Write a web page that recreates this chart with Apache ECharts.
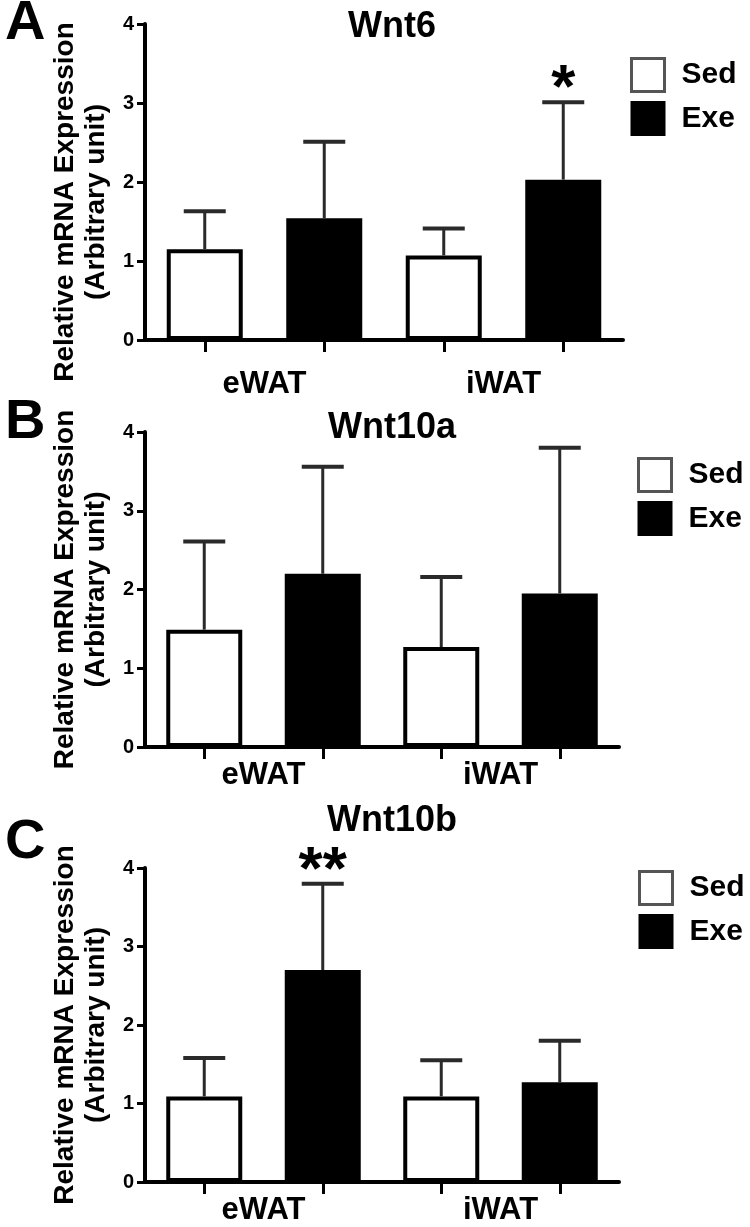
<!DOCTYPE html>
<html>
<head>
<meta charset="utf-8">
<script src="https://cdn.jsdelivr.net/npm/echarts@6/dist/echarts.min.js"></script>
<style>
  html, body { margin: 0; padding: 0; background: #fff; }
  #main { width: 750px; height: 1227px; }
</style>
</head>
<body>
<div id="main"></div>
<script>
// tissue groups and the four bar slots (Sed/Exe per tissue)
var groups = ['eWAT', 'iWAT'];
var slots = ['eWAT-Sed', 'eWAT-Exe', 'iWAT-Sed', 'iWAT-Exe'];
var genes = ['Wnt6', 'Wnt10a', 'Wnt10b'];
var letters = ['A', 'B', 'C'];

// Wnt6
var wnt6Sed = [1.15, 1.07];
var wnt6SedErr = [0.48, 0.34];
var wnt6Exe = [1.54, 2.03];
var wnt6ExeErr = [0.97, 0.98];
var wnt6Sig = ['', '*'];

// Wnt10a
var wnt10aSed = [1.49, 1.27];
var wnt10aSedErr = [1.12, 0.89];
var wnt10aExe = [2.20, 1.95];
var wnt10aExeErr = [1.36, 1.85];
var wnt10aSig = ['', ''];

// Wnt10b
var wnt10bSed = [1.09, 1.09];
var wnt10bSedErr = [0.49, 0.46];
var wnt10bExe = [2.70, 1.27];
var wnt10bExeErr = [1.10, 0.53];
var wnt10bSig = ['**', ''];

var panelData = [
  [wnt6Sed, wnt6SedErr, wnt6Exe, wnt6ExeErr, wnt6Sig],
  [wnt10aSed, wnt10aSedErr, wnt10aExe, wnt10aExeErr, wnt10aSig],
  [wnt10bSed, wnt10bSedErr, wnt10bExe, wnt10bExeErr, wnt10bSig]
];

// layout only
var layout = [
  { top: 24, height: 316, right: 127, labelMargin: 29, titleTop: 4, letterTop: -9, legendLeft: 625, legendTop: 52, nameShift: 40 },
  { top: 432, height: 315, right: 131, labelMargin: 13, titleTop: 405, letterTop: 390, legendLeft: 632, legendTop: 452, nameShift: 0 },
  { top: 868, height: 314, right: 131, labelMargin: 13, titleTop: 798, letterTop: 810, legendLeft: 633, legendTop: 865, nameShift: 0 }
];

var FONT = '"Liberation Sans", Arial, Helvetica, sans-serif';

var chart = echarts.init(document.getElementById('main'));

var option = {
  backgroundColor: '#fff',
  animation: false,
  textStyle: { fontFamily: FONT },
  title: [], grid: [], xAxis: [], yAxis: [], legend: [], series: []
};

function errRenderer(sig) {
  return function (params, api) {
    var slot = api.value(0);
    var m = api.value(1);
    var e = api.value(2);
    var base = api.coord([slot, m]);
    var top = api.coord([slot, m + e]);
    var kids = [
      { type: 'line', shape: { x1: base[0], y1: base[1], x2: top[0], y2: top[1] },
        style: { stroke: '#2a2a2a', lineWidth: 3 } },
      { type: 'line', shape: { x1: top[0] - 21, y1: top[1], x2: top[0] + 21, y2: top[1] },
        style: { stroke: '#2a2a2a', lineWidth: 4 } }
    ];
    var s = sig[params.dataIndex];
    if (s) {
      kids.push({ type: 'text', x: top[0], y: top[1] + 19,
        style: { text: s, fill: '#000', font: 'bold 62px ' + FONT, align: 'center', verticalAlign: 'bottom' } });
    }
    return { type: 'group', children: kids };
  };
}

panelData.forEach(function (d, i) {
  var L = layout[i];
  var sed = d[0], sedErr = d[1], exe = d[2], exeErr = d[3], sig = d[4];

  option.title.push({
    text: letters[i], left: 0, top: L.letterTop,
    textStyle: { fontSize: 56, fontWeight: 'bold', color: '#000', fontFamily: FONT }
  });
  option.title.push({
    text: genes[i], left: 387, top: L.titleTop, textAlign: 'center',
    textStyle: { fontSize: 36, fontWeight: 'bold', color: '#000', fontFamily: FONT }
  });

  option.grid.push({ left: 145, right: L.right, top: L.top, height: L.height,
    containLabel: false, outerBoundsMode: 'none' });

  // tissue labels + axis line
  option.xAxis.push({
    type: 'category', gridIndex: i, data: groups,
    axisLine: { lineStyle: { color: '#000', width: 4 } },
    axisTick: { show: false },
    axisLabel: { color: '#000', fontSize: 31, fontWeight: 'bold', margin: L.labelMargin, fontFamily: FONT }
  });
  // bar slots, used for ticks, bars and error bars
  option.xAxis.push({
    type: 'category', gridIndex: i, data: slots, position: 'bottom',
    axisLine: { show: false },
    axisTick: { show: true, alignWithLabel: true, length: 12, lineStyle: { color: '#000', width: 3 } },
    axisLabel: { show: false }
  });

  option.yAxis.push({
    type: 'value', gridIndex: i, min: 0, max: 4, interval: 1,
    name: 'Relative mRNA Expression\n(Arbitrary unit)',
    nameLocation: 'middle', nameGap: 33,
    nameTextStyle: { fontSize: 28, fontWeight: 'bold', color: '#000', lineHeight: 31, fontFamily: FONT,
      padding: [0, L.nameShift, 0, 0] },
    splitLine: { show: false },
    axisLine: { show: true, lineStyle: { color: '#000', width: 4 } },
    axisTick: { show: true, length: 8, lineStyle: { color: '#000', width: 3 } },
    axisLabel: { color: '#000', fontSize: 20, fontWeight: 'bold', margin: 11, fontFamily: FONT }
  });

  option.legend.push({
    orient: 'vertical', left: L.legendLeft, top: L.legendTop,
    icon: 'rect', itemWidth: 33, itemHeight: 33, itemGap: 8,
    textStyle: { fontSize: 30, fontWeight: 'bold', color: '#000', fontFamily: FONT, padding: [0, 0, 0, 12] },
    data: [
      { name: 'Sed', itemStyle: { color: '#fff', borderColor: '#555', borderWidth: 3 } },
      { name: 'Exe', itemStyle: { color: '#000', borderColor: '#000', borderWidth: 2 } }
    ],
    selectedMode: false
  });

  var sedSlots = [sed[0], '-', sed[1], '-'];
  var exeSlots = ['-', exe[0], '-', exe[1]];
  option.series.push({
    name: 'Sed', type: 'bar', xAxisIndex: 2 * i + 1, yAxisIndex: i,
    data: sedSlots, barWidth: 76, barGap: '-100%',
    itemStyle: { color: '#fff', borderColor: '#000', borderWidth: 4 }
  });
  option.series.push({
    name: 'Exe', type: 'bar', xAxisIndex: 2 * i + 1, yAxisIndex: i,
    data: exeSlots, barWidth: 76, barGap: '-100%',
    itemStyle: { color: '#000', borderColor: '#000', borderWidth: 4 }
  });

  var errData = [
    [0, sed[0], sedErr[0]], [1, exe[0], exeErr[0]],
    [2, sed[1], sedErr[1]], [3, exe[1], exeErr[1]]
  ];
  var sigSlots = ['', sig[0], '', sig[1]];
  option.series.push({
    type: 'custom', xAxisIndex: 2 * i + 1, yAxisIndex: i, z: 5,
    renderItem: errRenderer(sigSlots), data: errData, silent: true
  });
});

chart.setOption(option);
</script>
</body>
</html>
